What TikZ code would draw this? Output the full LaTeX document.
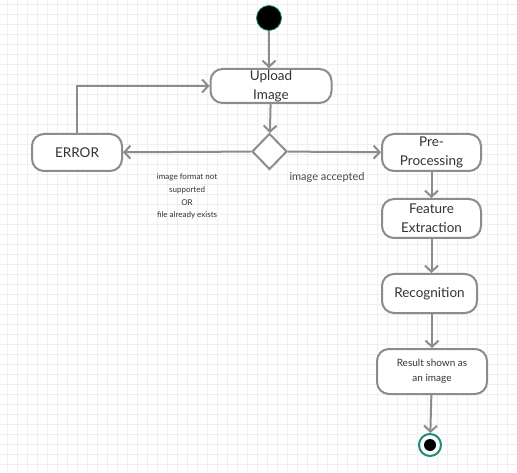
\documentclass[tikz,border=0pt]{standalone}
\usepackage{fontspec}
\setmainfont{Lato}
\usetikzlibrary{arrows.meta, shapes.geometric}

\definecolor{linegrey}{HTML}{8C8C8C}
\definecolor{gridgrey}{HTML}{EFEFEF}
\definecolor{textgrey}{HTML}{333333}
\definecolor{ringteal}{HTML}{1E8C78}

\begin{document}
\begin{tikzpicture}[x=1pt, y=-1pt, line width=2pt]
            \useasboundingbox (0, 0) rectangle (517, 473);
            \fill[white] (0, 0) rectangle (517, 473);

            % background grid
            \foreach \gx in {7, 17, ..., 517}
                \draw[gridgrey, line width=0.7pt] (\gx, 0) -- (\gx, 473);
            \foreach \gy in {4, 14, ..., 473}
                \draw[gridgrey, line width=0.7pt] (0, \gy) -- (517, \gy);

            {
                \tikzset{every node/.style = {shape=rectangle, rounded corners=12pt, draw=linegrey, fill=white,
                    text=textgrey, align=center, inner sep=0pt, font=\fontsize{13.5}{19}\selectfont}}

                \node[minimum width=121pt, minimum height=34pt] (upload) at (271, 86) {Upload\\Image};
                \node[minimum width=90pt, minimum height=37pt] (error) at (77, 152.5) {ERROR};
                \node[minimum width=99pt, minimum height=37pt] (pre) at (431.5, 152.5) {Pre-\\Processing};
                \node[minimum width=99pt, minimum height=39pt] (feature) at (431.5, 218.5) {Feature\\Extraction};
                \node[minimum width=95pt, minimum height=39pt] (recog) at (429.5, 293.5) {Recognition};
                \node[minimum width=110pt, minimum height=45pt, font=\fontsize{10}{15}\selectfont] (result) at (432, 371.5) {Result shown as\\an image};
            }

            % start, decision and end
            \node[circle, draw=ringteal, fill=black, line width=0.8pt, minimum size=25pt, inner sep=0pt] (start) at (269, 18) {};
            \node[diamond, draw=linegrey, fill=white, minimum width=35pt, minimum height=36pt, inner sep=0pt] (check) at (269.5, 151.5) {};
            \node[circle, draw=ringteal, fill=white, line width=2pt, minimum size=22pt, inner sep=0pt] (end) at (430, 445) {};
            \node[circle, fill=black, minimum size=12pt, inner sep=0pt] (enddot) at (430, 445) {};

            \tikzset{flow/.style = {draw=linegrey, -{Straight Barb[length=6pt, width=13pt]}}}

            \draw (start) edge[flow] (start |- upload.north);
            \draw (upload) edge[flow] (check);
            \draw (check) edge[flow] node[below=21pt, pos=0.5, inner sep=0pt, text=textgrey, align=center,
                font=\fontsize{8}{12.7}\selectfont] {image format not\\supported\\OR\\file already exists} (error);
            \draw[flow] (error) |- (upload);
            \draw (check) edge[flow] node[below=19.5pt, pos=0.42, inner sep=0pt, text=textgrey!90,
                font=\fontsize{11}{13}\selectfont] {image accepted} (pre);

            \draw (pre) edge[flow] (feature);
            \draw (feature) edge[flow] (feature.south |- recog.north);
            \draw (recog.south -| result.north) edge[flow] (result);
            \draw (result) edge[flow] (end);

        \end{tikzpicture}
\end{document}
